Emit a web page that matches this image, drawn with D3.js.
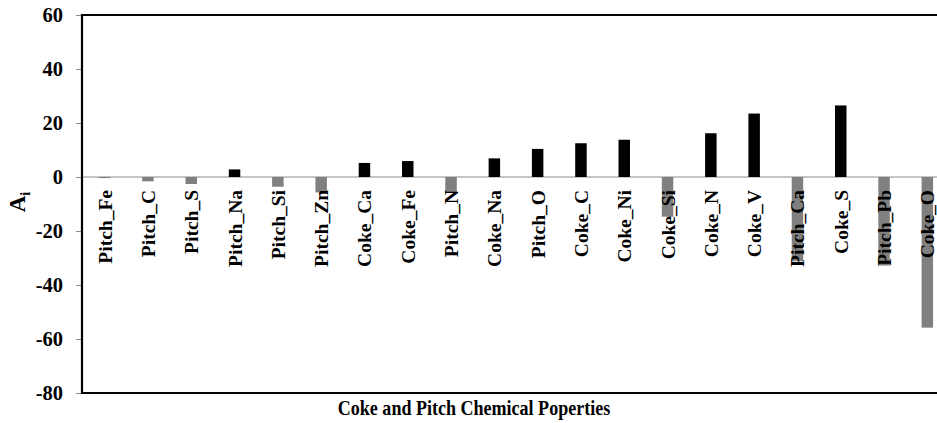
<!DOCTYPE html>
<html>
<head>
<meta charset="utf-8">
<script src="https://cdn.jsdelivr.net/npm/d3@7"></script>
<style>
  html, body { margin: 0; padding: 0; background: #fff; }
  svg { display: block; }
  text { font-family: "Liberation Serif", "Times New Roman", serif; font-weight: bold; fill: #000; }
</style>
</head>
<body>
<svg id="chart" width="937" height="423"></svg>
<script>
// Properties, sorted by absolute influence
const categories = [
  "Pitch_Fe", "Pitch_C", "Pitch_S", "Pitch_Na", "Pitch_Si", "Pitch_Zn",
  "Coke_Ca", "Coke_Fe", "Pitch_N", "Coke_Na", "Pitch_O", "Coke_C",
  "Coke_Ni", "Coke_Si", "Coke_N", "Coke_V", "Pitch_Ca", "Coke_S",
  "Pitch_Pb", "Coke_O"
];
const values = [
  -0.4, -1.6, -2.6, 2.8, -3.6, -5.7,
  5.2, 5.9, -5.8, 6.9, 10.4, 12.5,
  13.8, -14.7, 16.2, 23.5, -31.2, 26.5,
  -32.8, -55.8
];
const yTicks = [60, 40, 20, 0, -20, -40, -60, -80];
const yTitle = "A";
const yTitleSub = "i";
const xTitle = "Coke and Pitch Chemical Poperties";

const svg = d3.select("#chart");
const plot = { left: 82, top: 15, bottom: 393, right: 960 };

const x = d3.scaleBand()
  .domain(categories)
  .range([83, 949])
  .paddingInner(0.735)
  .paddingOuter(0.3675);

const y = d3.scaleLinear()
  .domain([-80, 60])
  .range([plot.bottom, plot.top]);

// zero reference line
svg.append("line")
  .attr("x1", plot.left).attr("x2", plot.right)
  .attr("y1", y(0)).attr("y2", y(0))
  .attr("stroke", "#8c8c8c").attr("stroke-width", 1.2);

// bars: positive black, negative grey
svg.append("g").selectAll("rect")
  .data(categories)
  .join("rect")
  .attr("x", (d) => x(d))
  .attr("width", x.bandwidth())
  .attr("y", (d, i) => y(Math.max(0, values[i])))
  .attr("height", (d, i) => Math.abs(y(values[i]) - y(0)))
  .attr("fill", (d, i) => values[i] >= 0 ? "#000" : "#808080");

// category labels, rotated, just below the zero line
svg.append("g").selectAll("text")
  .data(categories)
  .join("text")
  .attr("transform", (d) => `translate(${x(d) + x.bandwidth() / 2 + 7},${y(0) + 13}) rotate(-90)`)
  .attr("text-anchor", "end")
  .style("font-size", "19.5px")
  .text((d) => d);

// y axis
const yAxis = svg.append("g")
  .attr("transform", `translate(${plot.left},0)`)
  .call(d3.axisLeft(y).tickValues(yTicks).tickSize(6).tickPadding(13).tickFormat((d) => String(d)));
yAxis.select(".domain").remove();
yAxis.selectAll(".tick line").attr("stroke", "#8c8c8c");
yAxis.selectAll(".tick text")
  .style("font-size", "20.5px")
  .style("font-family", "'Liberation Serif', 'Times New Roman', serif")
  .style("font-weight", "bold")
  .attr("fill", "#000");

// plot frame
svg.append("path")
  .attr("d", `M${plot.right},${plot.top}H${plot.left}V${plot.bottom}H${plot.right}`)
  .attr("fill", "none")
  .attr("stroke", "#000")
  .attr("stroke-width", 2.2);

// axis titles
const yt = svg.append("text")
  .attr("transform", `translate(25,${(plot.top + plot.bottom) / 2 - 2}) rotate(-90)`)
  .attr("text-anchor", "middle")
  .style("font-size", "23px");
yt.append("tspan").text(yTitle);
yt.append("tspan").attr("dy", 5).style("font-size", "14px").text(yTitleSub);

svg.append("text")
  .attr("transform", "translate(474,415) scale(0.88,1)")
  .attr("text-anchor", "middle")
  .style("font-size", "20.5px")
  .text(xTitle);
</script>
</body>
</html>
